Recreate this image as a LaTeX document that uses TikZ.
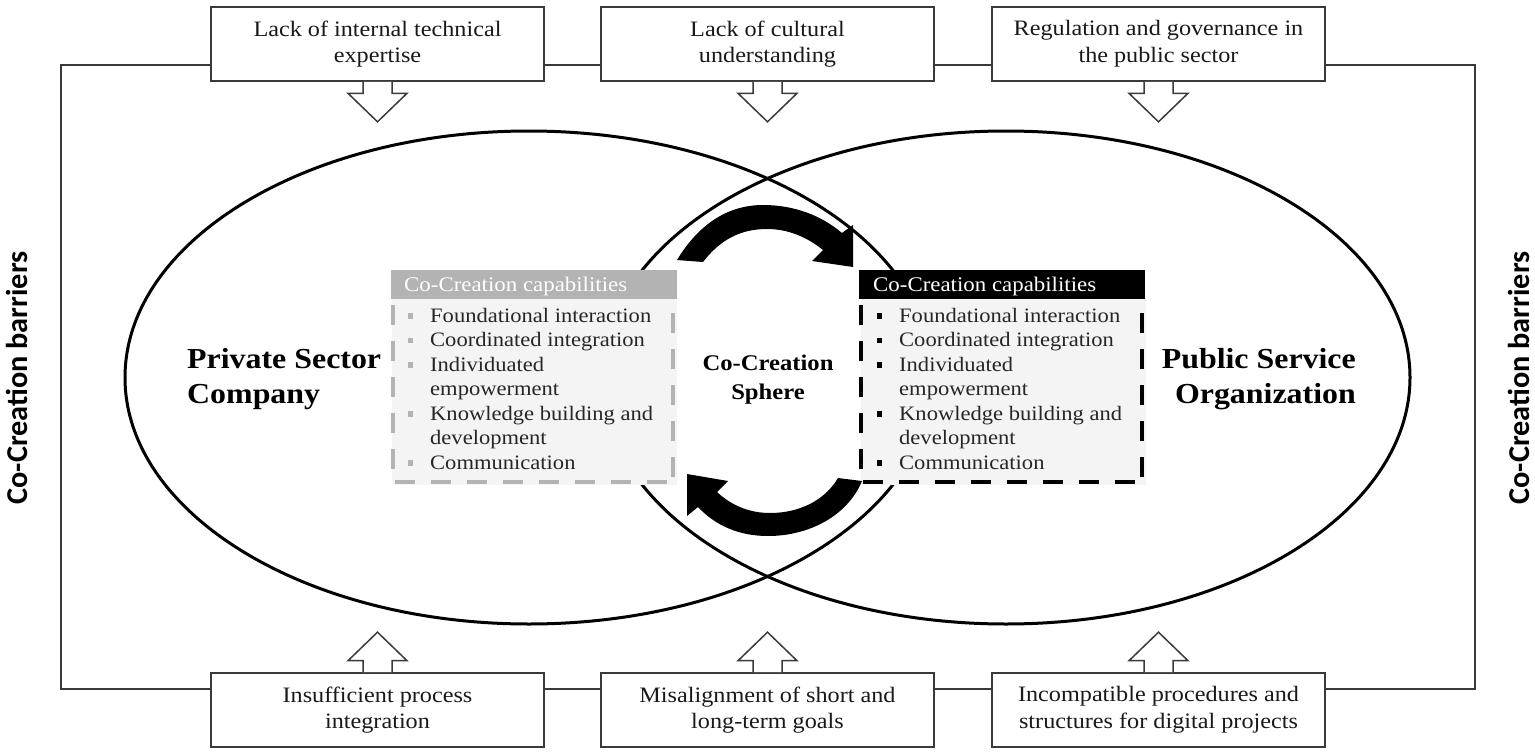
\documentclass[tikz,border=0pt]{standalone}
\usepackage{fontspec}
\setmainfont[FakeStretch=1.1]{Liberation Serif}
\newfontfamily\barfont{Carlito}
\usetikzlibrary{calc,shapes.geometric}
\definecolor{capgrey}{HTML}{B3B3B3}
\definecolor{capbody}{HTML}{F4F4F4}
\definecolor{linegrey}{HTML}{3A3A3A}
\newcommand{\capbullet}[1]{\llap{\textcolor{#1}{\rule[3.5pt]{5.5pt}{5.5pt}}\hspace{17pt}}}
\newcommand{\caplist}[1]{\capbullet{#1}Foundational interaction\\\capbullet{#1}Coordinated integration\\\capbullet{#1}Individuated\\empowerment\\\capbullet{#1}Knowledge building and\\development\\\capbullet{#1}Communication}
\tikzset{
  x=1pt,y=-1pt,
  barrier/.style={draw=linegrey,fill=white,line width=1.6pt,minimum width=333pt,minimum height=74pt,inner sep=0pt,align=center,font=\fontsize{22}{26.7}\selectfont,text=black!90,execute at begin node={\rule{0pt}{19.5pt}}},
  blockarrow/.style={draw=linegrey,fill=white,line width=1.5pt,line join=miter},
  sphere/.style={draw=black,line width=3pt,ellipse,inner sep=0pt,minimum width=808pt,minimum height=493pt},
  frameline/.style={draw=linegrey,line width=1.5pt},
  sidelabel/.style={rotate=90,font=\barfont\bfseries\fontsize{30.3}{36}\selectfont,inner sep=0pt},
  biglabel/.style={font=\bfseries\fontsize{29}{35}\selectfont,inner sep=0pt},
  capbox/.style={minimum width=286pt,minimum height=29pt,inner sep=0pt,font=\fontsize{19}{24}\selectfont},
  capback/.style={fill=capbody,draw=none},
  captext/.style={inner sep=0pt,anchor=north west,align=left,font=\fontsize{20.5}{24.5}\selectfont,text=black!85},
  solidturn/.style={fill=black,draw=none},
  dashside/.style={line width=4pt,dash pattern=on 20pt off 16pt},
}
\begin{document}
\begin{tikzpicture}
\useasboundingbox[fill=white] (0,0) rectangle (1535,755);
% frame
\coordinate (fa) at (61,65);
\coordinate (fb) at (1475,65);
\coordinate (fc) at (1475,689);
\coordinate (fd) at (61,689);
\draw[frameline] (fa) -- (fb) -- (fc) -- (fd) -- cycle;
% ellipses
\node[sphere] (priv) at (529,377.5) {};
\node[sphere] (pub) at (1006,377.5) {};
% barrier boxes
\node[barrier] (t1) at (377.5,44) {Lack of internal technical\\expertise};
\node[barrier] (t2) at (767.5,44) {Lack of cultural\\understanding};
\node[barrier] (t3) at (1158.5,44) {Regulation and governance in\\the public sector};
\node[barrier] (b1) at (377.5,710) {Insufficient process\\integration};
\node[barrier] (b2) at (767.5,710) {Misalignment of short and\\long-term goals};
\node[barrier] (b3) at (1158.5,710) {Incompatible procedures and\\structures for digital projects};
% block arrows
\foreach \n in {t1,t2,t3}
  \draw[blockarrow] (\n.south) ++(-14.5,0) -- ++(0,11.5) -- ++(-15,0) -- ++(29.5,28.5) -- ++(29.5,-28.5) -- ++(-15,0) -- ++(0,-11.5);
\foreach \n in {b1,b2,b3}
  \draw[blockarrow] (\n.north) ++(-14.5,0) -- ++(0,-11.5) -- ++(-15,0) -- ++(29.5,-28.5) -- ++(29.5,28.5) -- ++(-15,0) -- ++(0,11.5);
% capability panels: left
\fill[capback] (392,299) rectangle (677,485);
\node[capbox,fill=capgrey,text=white,anchor=north west] (lh) at (391,270) {};
\node[anchor=west,inner sep=0pt,text=white,font=\fontsize{20.8}{24}\selectfont] (lht) at (404,286) {Co-Creation capabilities};
\node[captext] (ll) at (430,308) {\caplist{capgrey}};
\draw[dashside,draw=capgrey] (393,305) -- (393,478);
\draw[dashside,draw=capgrey] (395,482) -- (670,482);
\draw[dashside,draw=capgrey] (673,313) -- (673,478);
% capability panels: right
\fill[capback] (861,299) rectangle (1146,485);
\node[capbox,fill=black,text=white,anchor=north west] (rh) at (859,270) {};
\node[anchor=west,inner sep=0pt,text=white,font=\fontsize{20.8}{24}\selectfont] (rht) at (873,286) {Co-Creation capabilities};
\node[captext] (rl) at (899,308) {\caplist{black}};
\draw[dashside,draw=black] (861,305) -- (861,478);
\draw[dashside,draw=black] (863,482) -- (1138,482);
\draw[dashside,draw=black] (1142,313) -- (1142,478);
% turning arrows
\fill[solidturn] (677,260) .. controls (700,222) and (730,205) .. (763,205) .. controls (795,205) and (822,216) .. (842,233) -- (853,225) -- (853,267) -- (812,261) -- (823,250) .. controls (807,237) and (788,229) .. (767,229) .. controls (740,229) and (720,240) .. (703,262) -- cycle;
\fill[solidturn] (862,481) .. controls (848,515) and (810,536) .. (768,536) .. controls (738,536) and (715,525) .. (698,507) -- (687,516) -- (687,474) -- (728,481) -- (717,492) .. controls (732,506) and (750,513) .. (770,513) .. controls (800,513) and (825,500) .. (838,478) -- cycle;
% labels
\node[biglabel,align=left,anchor=north west] (pl) at (187,348) {Private Sector\\Company};
\node[biglabel,align=right,anchor=north east] (rl2) at (1356,348) {Public Service\\Organization};
\node[inner sep=0pt,align=center,font=\bfseries\fontsize{22.4}{29}\selectfont] (cs) at (768,380) {Co-Creation\\Sphere};
\node[sidelabel] (sl) at (17,378) {Co-Creation barriers};
\node[sidelabel] (sr) at (1519,378) {Co-Creation barriers};
\end{tikzpicture}
\end{document}
